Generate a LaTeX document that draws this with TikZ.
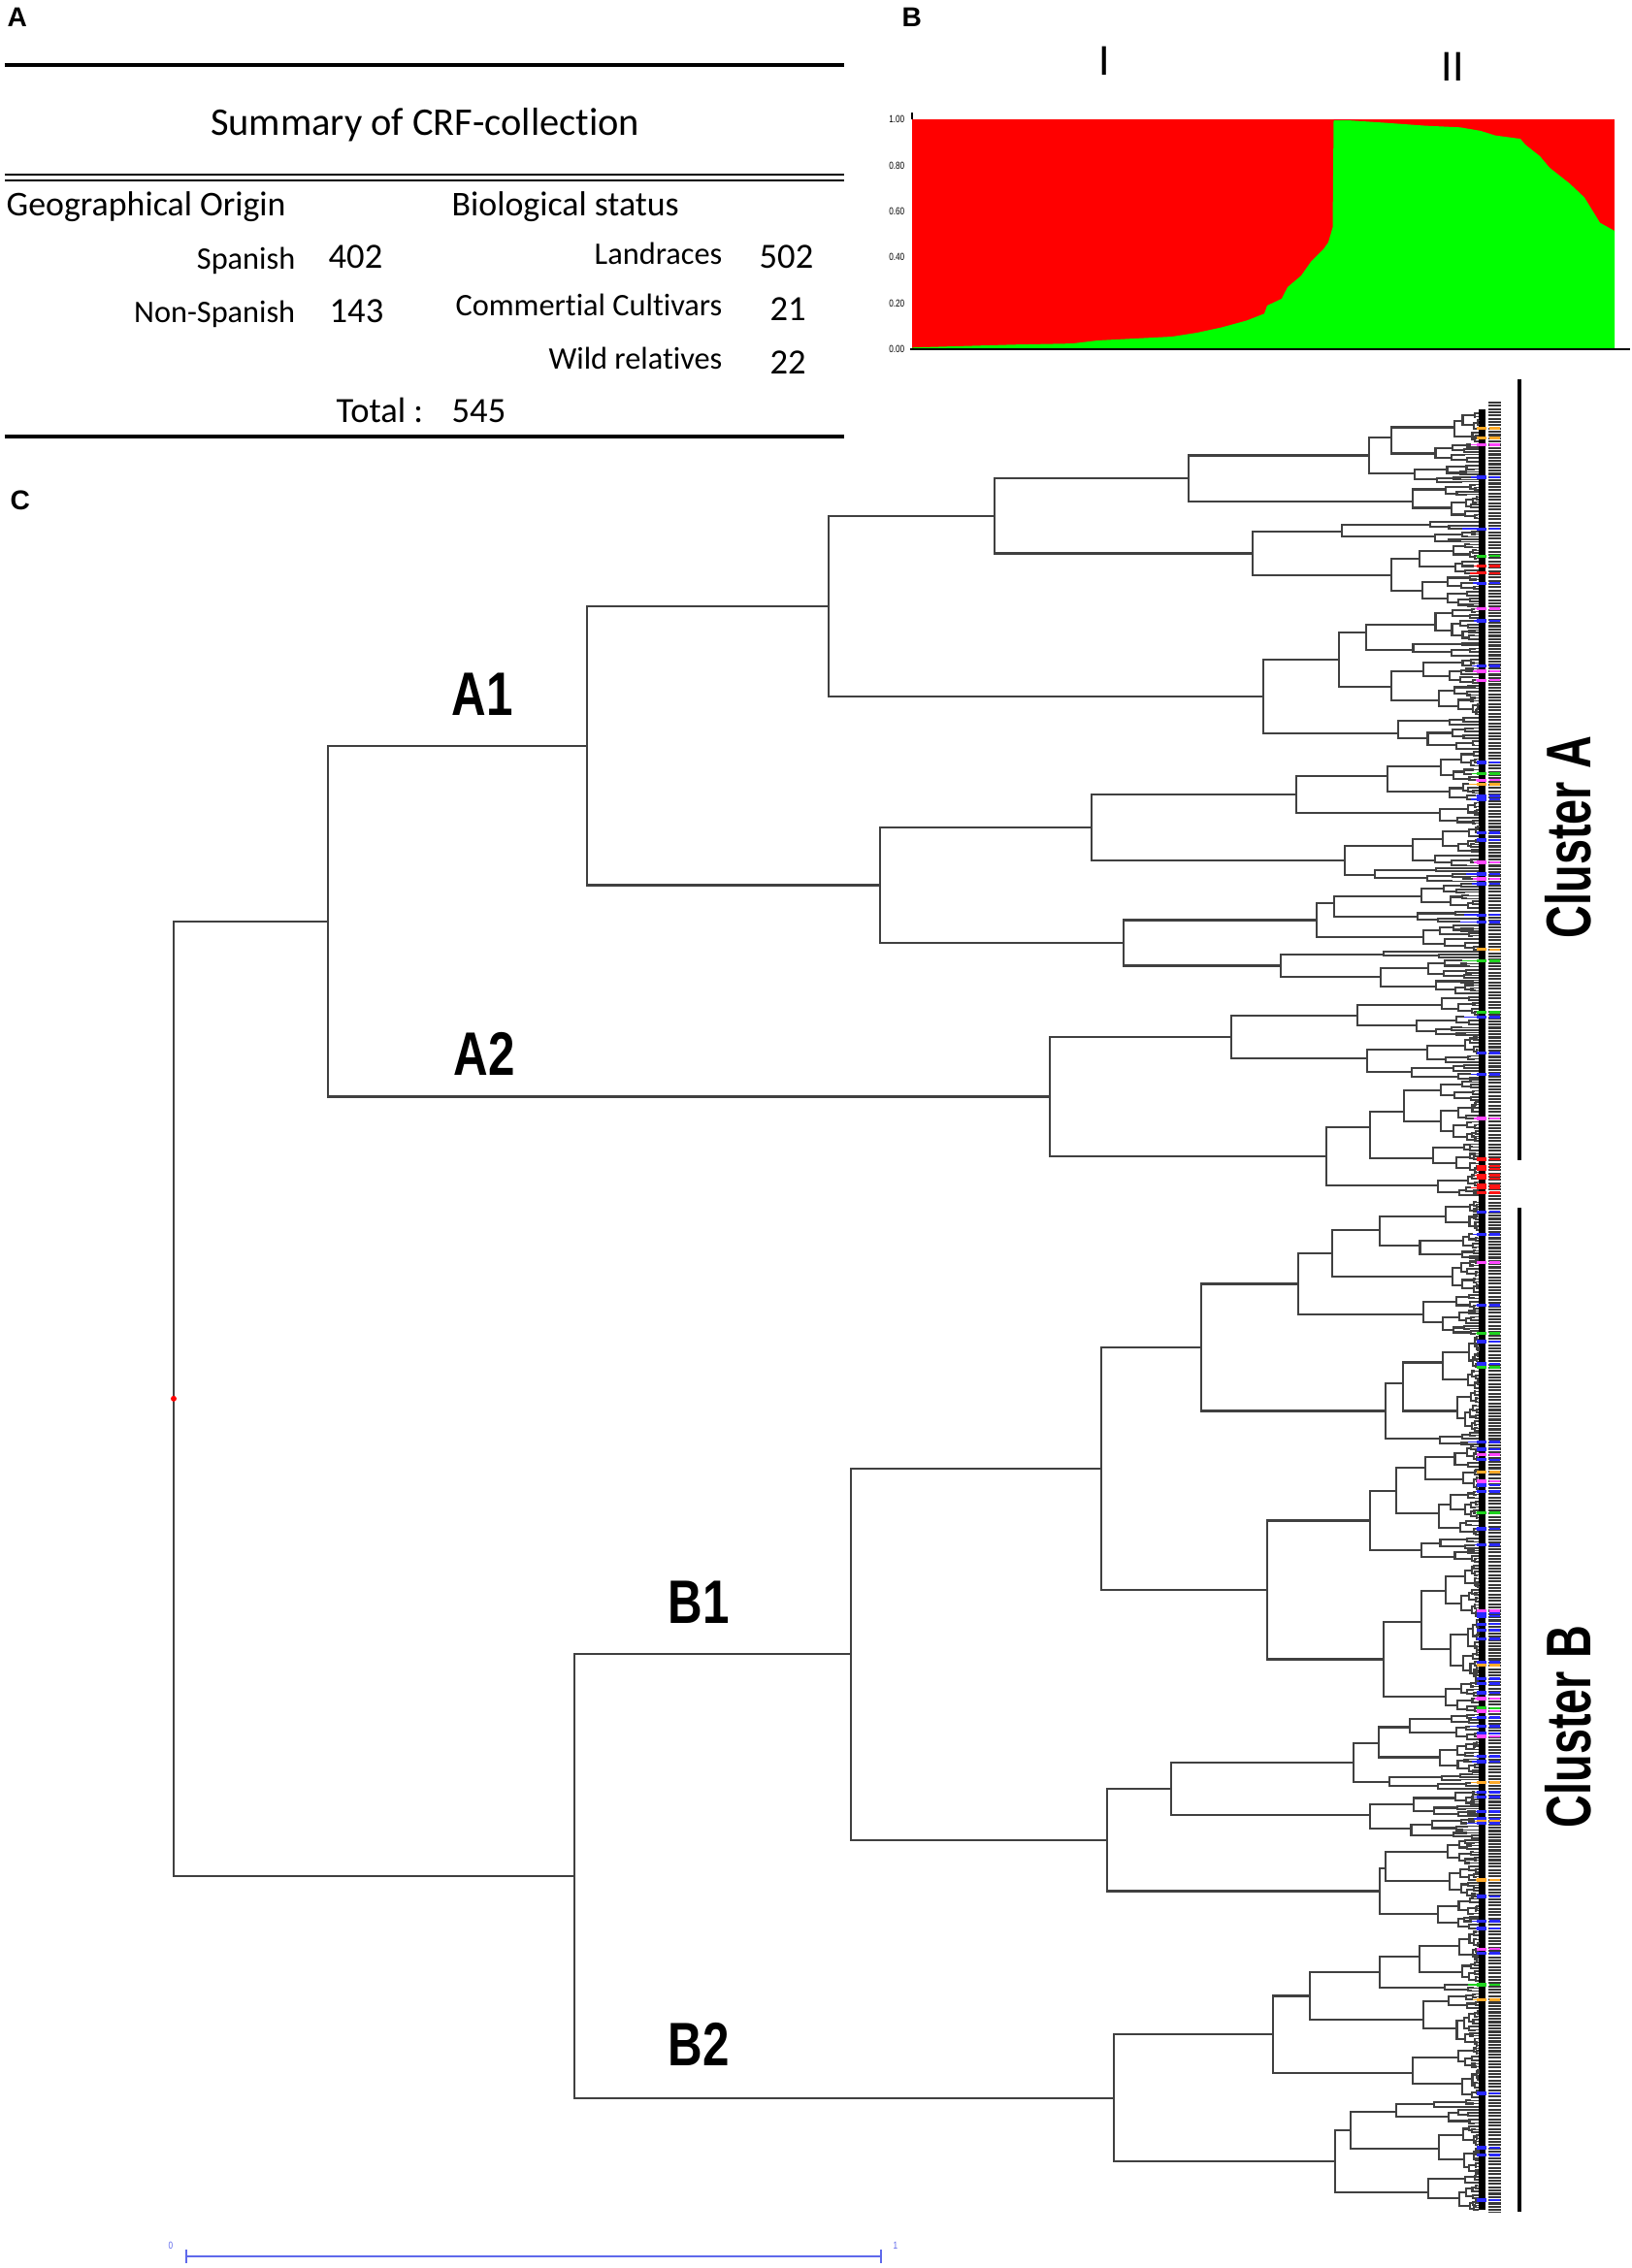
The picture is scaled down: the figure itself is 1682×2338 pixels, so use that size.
\documentclass[tikz,border=0pt]{standalone}
\usepackage{fontspec}
\setmainfont{Carlito}[Ligatures=NoCommon]
\newfontfamily\panelfont{Liberation Sans}
\newfontfamily\narrowfont{Liberation Sans}[FakeStretch=0.78]
\newfontfamily\condfont{Liberation Sans}[FakeStretch=0.72]
\usetikzlibrary{arrows.meta}

\definecolor{strred}{RGB}{255,0,0}
\definecolor{strgreen}{RGB}{0,255,0}
\definecolor{scaleblue}{RGB}{95,105,235}
\definecolor{leafblue}{RGB}{40,40,255}
\definecolor{leafmag}{RGB}{255,70,255}
\definecolor{leaforange}{RGB}{255,170,40}
\definecolor{leafgreen}{RGB}{30,210,30}
\definecolor{leafred}{RGB}{255,20,20}

\tikzset{
  branch/.style={draw=black!75, line width=0.6pt},
  twig/.style={line width=0.45pt},
  tablerule/.style={line width=0.9pt},
  cell/.style={inner sep=0pt, font=\fontsize{9.2}{11}\selectfont},
  num/.style={inner sep=0pt, font=\fontsize{10.4}{12}\selectfont},
  head/.style={inner sep=0pt, anchor=base west, font=\fontsize{10.2}{12}\selectfont},
  panel/.style={inner sep=0pt, anchor=north west, font=\panelfont\bfseries\fontsize{8}{9}\selectfont},
  clade/.style={inner sep=0pt, font=\narrowfont\bfseries\fontsize{18}{20}\selectfont},
  cluster/.style={inner sep=0pt, rotate=90, font=\condfont\bfseries\fontsize{18.5}{21}\selectfont},
  clusterbar/.style={line width=0.9pt},
  tinylab/.style={inner sep=0pt, font=\narrowfont\fontsize{3}{3}\selectfont},
}

% random fine structure of a clade whose leaves fill #2..#3, root at x=#1
\def\leafx{1524}
\newcommand\randclade[3]{%
  \begingroup
  \pgfmathsetmacro\rkSpan{#3-(#2)}%
  \pgfmathsetmacro\rkMid{(#2+#3)/2}%
  \ifdim\rkSpan pt<4.6pt
    \pgfmathsetmacro\rkPick{rnd}%
    \pgfmathtruncatemacro\rkCol{\rkPick<0.12 ? 1 : (\rkPick<0.14 ? 2 : (\rkPick<0.16 ? 3 : (\rkPick<0.17 ? 4 : 0)))}%
    \pgfmathtruncatemacro\rkCol{(((\rkMid>1188) && (\rkMid<1232)) || ((\rkMid>580) && (\rkMid<596))) && (\rkPick<0.7) ? 5 : \rkCol}%
    \ifcase\rkCol \def\rkC{black!75}\or \def\rkC{leafblue}\or \def\rkC{leafmag}\or
      \def\rkC{leaforange}\or \def\rkC{leafgreen}\or \def\rkC{leafred}\fi
    \draw[twig, draw=\rkC] (#1,\rkMid) -- (\leafx,\rkMid);
    \ifnum\rkCol>0
      \fill[\rkC] (1522,\rkMid-1.7) rectangle (1532,\rkMid+1.7);
      \fill[\rkC] (1535,\rkMid-1.2) rectangle (1546,\rkMid+1.2);
    \fi
  \else
    \pgfmathsetmacro\rkCut{#2+\rkSpan*(0.3+0.4*rnd)}%
    \pgfmathsetmacro\rkXa{#1+(\leafx-#1)*(0.3+0.45*rnd)}%
    \pgfmathsetmacro\rkXb{#1+(\leafx-#1)*(0.3+0.45*rnd)}%
    \pgfmathsetmacro\rkYa{(#2+\rkCut)/2}%
    \pgfmathsetmacro\rkYb{(\rkCut+#3)/2}%
    \draw[branch] (\rkXa,\rkYa) -| (#1,\rkYb) -- (\rkXb,\rkYb);
    \edef\rkNext{\noexpand\randclade{\rkXa}{#2}{\rkCut}\noexpand\randclade{\rkXb}{\rkCut}{#3}}%
    \rkNext
  \fi
  \endgroup}
\newcommand\subclade[4]{\coordinate (#1) at (#2,{(#3+#4)/2}); \randclade{#2}{#3}{#4}}

\begin{document}
\begin{tikzpicture}[x=0.1mm,y=-0.1mm]
\useasboundingbox (0,0) rectangle (1682,2338);
\pgfmathsetseed{4721}

% A: summary table
\node[panel] (pa) at (7,7) {A};
\draw[tablerule] (5,67) -- (870,67);
\node[inner sep=0pt, anchor=base, font=\fontsize{11.5}{13}\selectfont] (ttl) at (438,139) {Summary of CRF-collection};
\draw[line width=0.6pt] (5,180) -- (870,180) (5,186) -- (870,186);
\node[head] (geo) at (6,222) {Geographical Origin};
\node[head] (bio) at (465,222) {Biological status};
\node[cell, anchor=base east] (spa) at (305,277) {Spanish};
\node[num, anchor=base west] (nspa) at (338,276) {402};
\node[cell, anchor=base east] (nsp) at (305,332) {Non-Spanish};
\node[num, anchor=base west] (nnsp) at (339,332) {143};
\node[cell, anchor=base east] (lan) at (745,272) {Landraces};
\node[num, anchor=base west] (nlan) at (782,276) {502};
\node[cell, anchor=base east] (com) at (745,325) {Commertial Cultivars};
\node[num, anchor=base west] (ncom) at (793,330) {21};
\node[cell, anchor=base east] (wil) at (745,380) {Wild relatives};
\node[num, anchor=base west] (nwil) at (793,385) {22};
\node[num, anchor=base east] (tot) at (437,435) {Total :};
\node[num, anchor=base west] (ntot) at (465,435) {545};
\draw[line width=1.1pt] (5,450) -- (870,450);

% B: structure plot
\node[panel] (pb) at (929,7) {B};
\node[inner sep=0pt, font=\fontsize{13}{13}\selectfont] (k1) at (1138,63) {I};
\node[inner sep=0pt, font=\fontsize{13}{13}\selectfont] (k2) at (1497,69) {II};
\fill[strred] (940,123) rectangle (1664,360);
\fill[strgreen] plot coordinates {(940,360) (940,358.3) (977,357.2) (1044,355.3) (1105,354.1)
  (1131,351) (1167,349.1) (1208,347) (1234,342.9) (1259,337.5) (1285,330.4) (1303,323.3)
  (1306,315) (1321,307.9) (1327,296) (1341,284.2) (1351,269.9) (1364,256.9) (1369,249.8)
  (1373.5,234.4) (1374.5,124.2) (1392,124.2) (1428,126.6) (1469,129.6) (1505,131.3)
  (1526,134.9) (1541,139.6) (1567,143.1) (1572,149.1) (1587,160.9) (1597,172.8)
  (1618,189.4) (1633,203.6) (1649,229.6) (1664,238) (1664,360)} -- cycle;
\draw[line width=0.6pt] (938,360) -- (1680,360);
\draw[line width=0.4pt] (940,116) -- (940,123);
\foreach \v/\t in {123/1.00,170.4/0.80,217.8/0.60,265.2/0.40,312.6/0.20,360/0.00}
  \node[tinylab, anchor=east] (y\t) at (933,\v) {\t};

% C: dendrogram
\node[panel] (pc) at (10,505) {C};
\draw[line width=2pt] (1527.5,422) -- (1527.5,2278);
\draw[black!78, line width=3.6pt, dash pattern=on 0.6pt off 0.35pt] (1540.5,414) -- (1540.5,2281);

\coordinate (root) at (179,1441.8);
\coordinate (a) at (338,949.6);
\coordinate (b) at (592,1934);
\coordinate (a1) at (605,768.8);
\coordinate (a2) at (1082,1130.5);
\coordinate (a11) at (854,625);
\coordinate (a12) at (907,912.5);
\coordinate (a111) at (1025,531.8);
\coordinate (a112) at (1302,718);
\coordinate (a1111) at (1225,493);
\coordinate (a1112) at (1291,570.5);
\coordinate (a11111) at (1411,469.5);
\coordinate (a1121) at (1380,680);
\coordinate (a121) at (1125,853);
\coordinate (a122) at (1158,972);
\coordinate (a1211) at (1336,819);
\coordinate (a1212) at (1386,887);
\coordinate (a1221) at (1357,948.5);
\coordinate (a1222) at (1320,995.5);
\coordinate (a21) at (1269,1069);
\coordinate (a22) at (1367,1192);
\coordinate (b1) at (877,1705.4);
\coordinate (b2) at (1148,2162.6);
\coordinate (b11) at (1135,1514);
\coordinate (b12) at (1141,1896.8);
\coordinate (b111) at (1238,1389);
\coordinate (b112) at (1306,1639);
\coordinate (b1111) at (1338,1323.5);
\coordinate (b11111) at (1373,1292);
\coordinate (b1112) at (1428,1454.5);
\coordinate (b1121) at (1412,1567.5);
\coordinate (b1122) at (1426,1710.5);
\coordinate (b121) at (1207,1844);
\coordinate (b1211) at (1395,1817);
\coordinate (b122) at (1422,1949.5);
\coordinate (b21) at (1312,2097.3);
\coordinate (b211) at (1350,2057.5);
\coordinate (b2111) at (1422,2033);
\coordinate (b22) at (1376,2228);
\coordinate (b221) at (1392,2196);

\subclade{a111111}{1434}{424}{478}
\subclade{a111112}{1458}{478}{498}
\subclade{a11112}{1456}{498}{536}
\subclade{a11121}{1383}{536}{560}
\subclade{a11122}{1434}{560}{626}
\subclade{a11211}{1408}{626}{678}
\subclade{a11212}{1434}{678}{738}
\subclade{a1122}{1441}{738}{774}
\subclade{a12111}{1430}{774}{826}
\subclade{a12112}{1484}{826}{850}
\subclade{a12121}{1456}{850}{894}
\subclade{a12122}{1417}{894}{910}
\subclade{a12211}{1375}{910}{952}
\subclade{a12212}{1467}{952}{980}
\subclade{a12221}{1426}{980}{988}
\subclade{a12222}{1423}{988}{1026}
\subclade{a211}{1399}{1026}{1068}
\subclade{a212}{1409}{1068}{1114}
\subclade{a221}{1412}{1114}{1210}
\subclade{a222}{1482}{1210}{1234}
\subclade{b111111}{1422}{1238}{1298}
\subclade{b111112}{1497}{1298}{1334}
\subclade{b11112}{1467}{1334}{1376}
\subclade{b11121}{1446}{1376}{1476}
\subclade{b11122}{1484}{1476}{1490}
\subclade{b11211}{1439}{1490}{1584}
\subclade{b11212}{1465}{1584}{1612}
\subclade{b11221}{1465}{1612}{1732}
\subclade{b11222}{1490}{1732}{1766}
\subclade{b12111}{1421}{1766}{1828}
\subclade{b12112}{1432}{1828}{1846}
\subclade{b1212}{1412}{1846}{1896}
\subclade{b1221}{1428}{1896}{1956}
\subclade{b1222}{1482}{1956}{1990}
\subclade{b21111}{1463}{1990}{2044}
\subclade{b21112}{1489}{2044}{2054}
\subclade{b2112}{1467}{2054}{2110}
\subclade{b212}{1456}{2110}{2164}
\subclade{b2211}{1439}{2164}{2190}
\subclade{b2212}{1483}{2190}{2240}
\subclade{b222}{1472}{2240}{2280}

\foreach \p/\c in {root/a, root/b, a/a1, a/a2, a1/a11, a1/a12, a11/a111, a11/a112,
    a111/a1111, a111/a1112, a1111/a11111, a1111/a11112, a11111/a111111, a11111/a111112,
    a1112/a11121, a1112/a11122, a112/a1121, a112/a1122, a1121/a11211, a1121/a11212,
    a12/a121, a12/a122, a121/a1211, a121/a1212, a1211/a12111, a1211/a12112,
    a1212/a12121, a1212/a12122, a122/a1221, a122/a1222, a1221/a12211, a1221/a12212,
    a1222/a12221, a1222/a12222, a2/a21, a2/a22, a21/a211, a21/a212, a22/a221, a22/a222,
    b/b1, b/b2, b1/b11, b1/b12, b11/b111, b11/b112, b111/b1111, b111/b1112,
    b1111/b11111, b1111/b11112, b11111/b111111, b11111/b111112, b1112/b11121, b1112/b11122,
    b112/b1121, b112/b1122, b1121/b11211, b1121/b11212, b1122/b11221, b1122/b11222,
    b12/b121, b12/b122, b121/b1211, b121/b1212, b1211/b12111, b1211/b12112,
    b122/b1221, b122/b1222, b2/b21, b2/b22, b21/b211, b21/b212, b211/b2111, b211/b2112,
    b2111/b21111, b2111/b21112, b22/b221, b22/b222, b221/b2211, b221/b2212}
  \draw[branch] (\p) |- (\c);
\fill[red] (root) circle (3);

\node[clade] (la1) at (497,716) {A1};
\node[clade] (la2) at (499,1086) {A2};
\node[clade] (lb1) at (720,1652) {B1};
\node[clade] (lb2) at (720,2107) {B2};

\coordinate (ca1) at (1566,391);
\coordinate (ca2) at (1566,1196);
\coordinate (cb1) at (1566,1245);
\coordinate (cb2) at (1566,2280);
\draw[clusterbar] (ca1) -- (ca2);
\draw[clusterbar] (cb1) -- (cb2);
\node[cluster] (cla) at (1616,863) {Cluster A};
\node[cluster] (clb) at (1616,1780) {Cluster B};

% scale bar
\coordinate (s0) at (191,2326);
\coordinate (s1) at (909,2326);
\draw[draw=scaleblue, line width=0.5pt, {Bar[width=4pt]}-{Bar[width=4pt]}] (s0) -- (s1);
\node[tinylab, text=scaleblue] (t0) at (176,2315) {0};
\node[tinylab, text=scaleblue] (t1) at (923,2315) {1};
\end{tikzpicture}
\end{document}
